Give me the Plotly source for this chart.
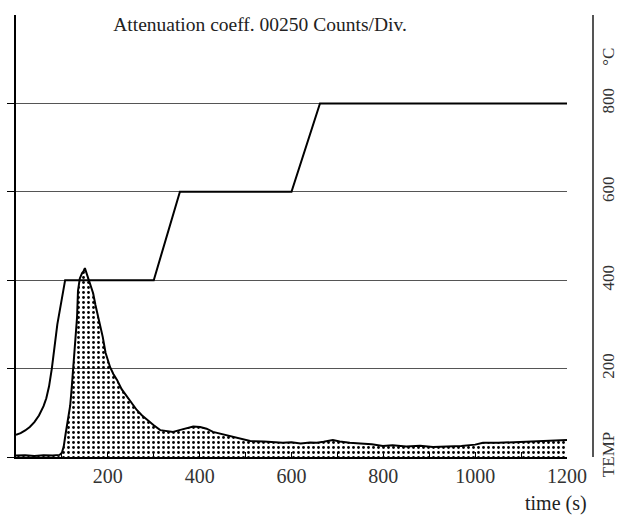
import plotly.graph_objects as go

# ---- data ----
time_s = [0, 20, 40, 60, 80, 95, 100, 104, 108, 111, 115, 118, 121, 124, 128,
          133, 135, 139, 144, 147, 150, 153, 157, 162, 168, 173, 179, 184, 189, 195,
          200, 205, 212, 220, 230, 242, 252, 263, 274, 285, 300, 314, 328, 342, 356,
          372, 386, 401, 415, 429, 450, 473, 490, 510, 540, 560, 581, 600, 620, 640,
          655, 670, 690, 705, 727, 750, 775, 799, 820, 850, 880, 908, 940, 970, 1000,
          1017, 1050, 1080, 1110, 1140, 1170, 1200]
counts = [4, 5, 3, 5, 4, 6, 12, 30, 65, 90, 125, 145, 190, 246, 330,
          396, 470, 505, 520, 525, 534, 522, 508, 485, 463, 430, 396, 368, 339, 295,
          272, 254, 235, 218, 192, 170, 150, 133, 118, 105, 90, 76, 73, 71, 76,
          82, 86, 85, 80, 71, 64, 57, 52, 45, 44, 42, 40, 42, 38, 41,
          40, 43, 48, 44, 40, 38, 36, 31, 33, 30, 32, 28, 30, 31, 35,
          40, 40, 42, 44, 45, 46, 48]

temp_time = [0, 10, 20, 30, 40, 50, 60, 66, 72, 78, 90, 107, 300, 357, 600, 662, 1200]
temp_c = [50, 54, 60, 68, 79, 94, 115, 133, 160, 200, 300, 400, 400, 600, 600, 800, 800]

x_tickvals = [200, 400, 600, 800, 1000, 1200]
x_ticktext = ["200", "400", "600", "800", "1000", "1200"]
count_ticks = [0, 250, 500, 750, 1000]
temp_tickvals = [0, 200, 400, 600, 800, 900]
temp_ticktext = ["TEMP", "200", "400", "600", "800", "°C"]

title_text = "Attenuation coeff. 00250 Counts/Div."
xlabel_text = "time (s)"

FONT = "Liberation Serif, Times New Roman, serif"
TXT = "#222222"

fig = go.Figure()

fig.add_trace(go.Scatter(
    x=time_s, y=counts, mode="lines",
    line=dict(color="black", width=2),
    fill="tozeroy",
    fillcolor="rgba(0,0,0,0)",
    fillpattern=dict(shape=".", size=5, solidity=0.25,
                     fgcolor="black", bgcolor="rgba(0,0,0,0)", fillmode="replace"),
    yaxis="y", showlegend=False, hoverinfo="skip",
))

fig.add_trace(go.Scatter(
    x=temp_time, y=temp_c, mode="lines",
    line=dict(color="black", width=2),
    yaxis="y2", showlegend=False, hoverinfo="skip",
))

W, H = 618, 517
ml, mr, mt, mb = 16, 25, 15, 60
plot_w = W - ml - mr
x_end_px = 567 - ml

fig.update_layout(
    width=W, height=H,
    margin=dict(l=ml, r=mr, t=mt, b=mb, autoexpand=False),
    paper_bgcolor="white", plot_bgcolor="white",
    font=dict(family=FONT, color=TXT, size=20),
    title=dict(text=title_text, x=260 / W,
               xref="container", xanchor="center",
               y=1 - 24 / H, yref="container", yanchor="middle",
               font=dict(family=FONT, size=19.5, color=TXT)),
    xaxis=dict(
        domain=[0, x_end_px / plot_w],
        range=[0, 1200], showgrid=False, zeroline=False,
        showline=True, linecolor="black", linewidth=1.5,
        tickvals=x_tickvals, ticktext=x_ticktext,
        ticks="inside", ticklen=5, tickcolor="black", tickwidth=1,
        minor=dict(dtick=100, tick0=0, ticks="inside", ticklen=5,
                   tickcolor="black", tickwidth=1, showgrid=False),
        tickfont=dict(family=FONT, size=20, color="#333333"),
        fixedrange=True,
    ),
    yaxis=dict(
        range=[0, 1250], domain=[0, 1],
        showline=True, linecolor="black", linewidth=1.5,
        tickvals=count_ticks, showticklabels=False,
        ticks="outside", ticklen=7, tickcolor="black", tickwidth=1,
        showgrid=True, gridcolor="#555555", gridwidth=1,
        zeroline=False, fixedrange=True,
    ),
    yaxis2=dict(
        range=[0, 1000], overlaying="y", side="right",
        anchor="free", position=1.0,
        showline=True, linecolor="#555555", linewidth=1.5,
        showgrid=False, zeroline=False,
        tickvals=temp_tickvals, ticktext=temp_ticktext,
        tickangle=-90, ticks="",
        tickfont=dict(family=FONT, size=17, color="#333333"),
        fixedrange=True,
    ),
    annotations=[dict(
        text=xlabel_text, xref="paper", yref="paper",
        x=(556 - ml) / plot_w, y=-(503 - (H - mb)) / (H - mt - mb),
        xanchor="center", yanchor="middle", showarrow=False,
        font=dict(family=FONT, size=20, color=TXT),
    )],
)

fig.write_html("out.html")
